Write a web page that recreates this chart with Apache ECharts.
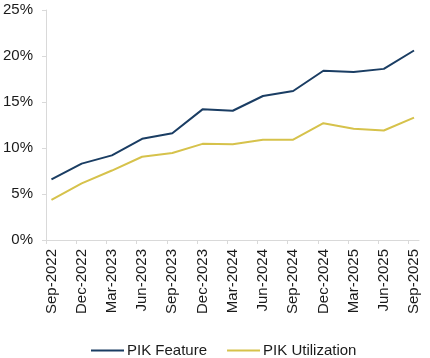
<!DOCTYPE html>
<html>
<head>
<meta charset="utf-8">
<script src="https://cdn.jsdelivr.net/npm/echarts@6/dist/echarts.min.js"></script>
<style>
html,body{margin:0;padding:0;background:#fff;}
#chart{width:430px;height:358px;}
</style>
</head>
<body>
<div id="chart"></div>
<script>
const categories = ['Sep-2022','Dec-2022','Mar-2023','Jun-2023','Sep-2023','Dec-2023','Mar-2024','Jun-2024','Sep-2024','Dec-2024','Mar-2025','Jun-2025','Sep-2025'];
const pikFeature = [6.6, 8.3, 9.2, 11.0, 11.6, 14.2, 14.05, 15.65, 16.2, 18.4, 18.25, 18.6, 20.6];
const pikUtilization = [4.35, 6.15, 7.55, 9.05, 9.45, 10.45, 10.4, 10.9, 10.9, 12.7, 12.1, 11.9, 13.3];
const yTicks = [0, 5, 10, 15, 20, 25];

const FONT = "'Liberation Sans', Arial, sans-serif";
const idx = categories.map((c, i) => i);
const off = 0.18;
const chart = echarts.init(document.getElementById('chart'), null, {renderer: 'canvas'});
chart.setOption({
  animation: false,
  grid: {left: 46, right: 11, top: 10, bottom: 118, containLabel: false},
  xAxis: {
    type: 'value',
    min: -off,
    max: categories.length - 1 + 0.165,
    axisLine: {show: true, onZero: false, lineStyle: {color: '#d9d9d9', width: 1}},
    axisTick: {show: true, length: 4, lineStyle: {color: '#d9d9d9'}, customValues: idx.map(i => i - off)},
    splitLine: {show: false},
    axisLabel: {
      customValues: idx,
      rotate: 90,
      margin: 9,
      fontSize: 15,
      fontFamily: FONT,
      color: '#1a1a1a',
      formatter: v => categories[Math.round(v)]
    }
  },
  yAxis: {
    type: 'value',
    min: yTicks[0],
    max: yTicks[yTicks.length - 1],
    interval: 5,
    axisLine: {show: true, onZero: false, lineStyle: {color: '#d9d9d9', width: 1}},
    axisTick: {show: true, length: 4, lineStyle: {color: '#d9d9d9'}},
    splitLine: {show: false},
    axisLabel: {
      margin: 13,
      fontSize: 15,
      fontFamily: FONT,
      color: '#1a1a1a',
      formatter: '{value}%'
    }
  },
  legend: {
    left: 86,
    top: 338,
    itemWidth: 33,
    itemHeight: 2,
    itemGap: 20,
    icon: 'rect',
    textStyle: {fontSize: 15, fontFamily: FONT, color: '#1a1a1a', padding: [0, 0, 0, -2]},
    data: ['PIK Feature', 'PIK Utilization']
  },
  series: [
    {
      name: 'PIK Feature',
      type: 'line',
      data: pikFeature.map((v, i) => [idx[i], v]),
      showSymbol: false,
      symbol: 'none',
      lineStyle: {color: '#1a3d63', width: 2},
      itemStyle: {color: '#1a3d63'}
    },
    {
      name: 'PIK Utilization',
      type: 'line',
      data: pikUtilization.map((v, i) => [idx[i], v]),
      showSymbol: false,
      symbol: 'none',
      lineStyle: {color: '#d6c24b', width: 2},
      itemStyle: {color: '#d6c24b'}
    }
  ]
});
</script>
</body>
</html>
